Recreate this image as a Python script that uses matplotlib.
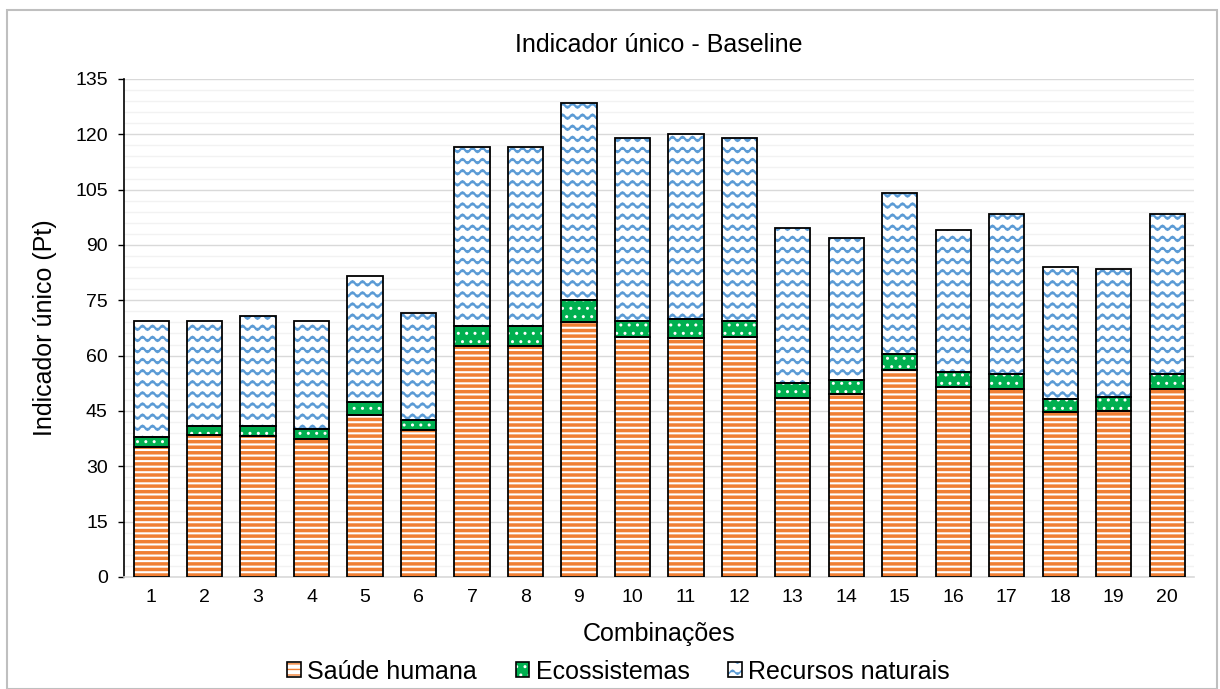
import warnings
import numpy as np
import matplotlib
matplotlib.use("Agg")
import matplotlib.pyplot as plt
from matplotlib import hatch as mhatch
from matplotlib.path import Path
from matplotlib.patches import Rectangle, Patch
from matplotlib.ticker import MultipleLocator

warnings.filterwarnings("ignore")

# dados (valores acumulados)
combinacoes = [str(i) for i in range(1, 21)]
saude = [35.3, 38.5, 38.2, 37.3, 43.8, 39.8, 62.5, 62.5, 69.0, 65.0,
         64.8, 65.0, 48.5, 49.5, 56.0, 51.5, 51.0, 44.6, 45.0, 51.0]
topo_eco = [38.0, 40.9, 40.9, 40.1, 47.5, 42.5, 68.0, 68.0, 75.0, 69.5,
            70.0, 69.5, 52.5, 53.5, 60.5, 55.5, 55.0, 48.3, 48.7, 55.0]
topo_total = [69.5, 69.5, 70.8, 69.5, 81.5, 71.5, 116.5, 116.5, 128.5, 119.0,
              120.0, 119.0, 94.5, 92.0, 104.0, 94.0, 98.5, 84.0, 83.5, 98.5]

saude = np.array(saude)
ecossistemas = np.array(topo_eco) - saude
recursos = np.array(topo_total) - np.array(topo_eco)


# hatch ondulado (tipo "wave" do Excel)
class WaveHatch(mhatch.HatchPatternBase):
    def __init__(self, hatch, density):
        self.num_lines = hatch.count('~') * 9
        self.pts = 80
        self.num_vertices = self.num_lines * (self.pts + 1)

    def set_vertices_and_codes(self, vertices, codes):
        step = 1.0 / self.num_lines
        x = np.linspace(0, 1, self.pts + 1)
        k = 0
        for i in range(self.num_lines):
            y = (i + 0.5) * step + 0.19 * step * np.sin(2 * np.pi * 10 * x)
            vertices[k:k + self.pts + 1, 0] = x
            vertices[k:k + self.pts + 1, 1] = y
            codes[k] = Path.MOVETO
            codes[k + 1:k + self.pts + 1] = Path.LINETO
            k += self.pts + 1


mhatch._hatch_types.append(WaveHatch)

plt.rcParams['font.family'] = ['Liberation Sans', 'DejaVu Sans']

fig = plt.figure(figsize=(12.2, 6.89), dpi=100)
ax = fig.add_axes([0.102, 0.1626, 0.8766, 0.7228])

x = np.arange(len(combinacoes))
w = 0.66

LARANJA = '#F07F33'
VERDE = '#00B050'
AZUL = '#5B9BD5'
estilos = [
    (saude, np.zeros(20), 'white', LARANJA, '---', 2.5),
    (ecossistemas, saude, VERDE, 'white', '..', 1.0),
    (recursos, saude + ecossistemas, 'white', AZUL, '~', 1.6),
]
handles = []
for vals, base, fc, hc, ht, hlw in estilos:
    with plt.rc_context({'hatch.linewidth': hlw}):
        bars = ax.bar(x, vals, w, bottom=base, color=fc, edgecolor=hc,
                      hatch=ht, linewidth=0, zorder=2)
        for b in bars:
            if hasattr(b, 'set_hatch_linewidth'):
                b.set_hatch_linewidth(hlw)
        hp = Patch(facecolor=fc, edgecolor=hc, hatch=ht, linewidth=0)
        if hasattr(hp, 'set_hatch_linewidth'):
            hp.set_hatch_linewidth(min(hlw, 1.2))
    ax.bar(x, vals, w, bottom=base, fill=False, edgecolor='black',
           linewidth=1.3, zorder=3)
    handles.append((hp, Patch(fill=False, edgecolor='black', linewidth=1.2)))

ax.set_xlim(-0.5, 19.5)
ax.set_ylim(0, 135)
ax.yaxis.set_major_locator(MultipleLocator(15))
ax.yaxis.set_minor_locator(MultipleLocator(3))
ax.grid(axis='y', which='major', color='#D9D9D9', linewidth=1.0, zorder=0)
ax.grid(axis='y', which='minor', color='#F2F2F2', linewidth=1.0, zorder=0)
ax.set_axisbelow(True)
ax.set_xticks(x)
ax.set_xticklabels(combinacoes)
ax.tick_params(axis='x', length=0, labelsize=14, pad=9)
ax.tick_params(axis='y', which='major', length=4, width=1, direction='out',
               labelsize=14, pad=8)
ax.tick_params(axis='y', which='minor', length=0)
for s in ['top', 'right']:
    ax.spines[s].set_visible(False)
ax.spines['left'].set_color('black')
ax.spines['left'].set_linewidth(1.2)
ax.spines['bottom'].set_color('#D9D9D9')
ax.spines['bottom'].set_linewidth(1.2)

ax.set_title('Indicador único - Baseline', fontsize=18, pad=19.5)
ax.set_ylabel('Indicador único (Pt)', fontsize=18)
ax.set_xlabel('Combinações', fontsize=18)
ax.yaxis.set_label_coords(-0.063, 0.5)
ax.xaxis.set_label_coords(0.5, -0.09)

labels = ['Saúde humana', 'Ecossistemas', 'Recursos naturais']
leg = fig.legend(handles=handles, labels=labels, loc='center',
                 bbox_to_anchor=(0.507, 0.025), ncol=3, frameon=False,
                 fontsize=18, handlelength=0.55, handleheight=0.55,
                 handletextpad=0.25, columnspacing=1.55)

fig.add_artist(Rectangle((7 / 1220, 0.0), 1210 / 1220, 1 - 10 / 689,
                         transform=fig.transFigure, fill=False,
                         edgecolor='#BFBFBF', linewidth=1.5))

fig.savefig('out.png', dpi=100)
